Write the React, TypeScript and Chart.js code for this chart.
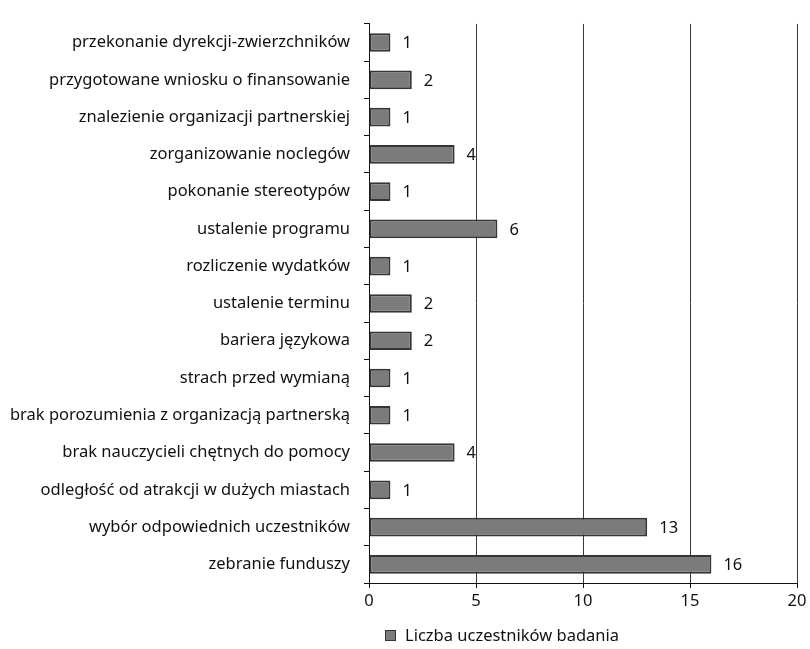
import React, { useEffect, useRef } from "react";
import { Chart, registerables } from "chart.js";

Chart.register(...registerables);

// Categories listed top to bottom
const categories: string[] = [
  "przekonanie dyrekcji-zwierzchników",
  "przygotowane wniosku o finansowanie",
  "znalezienie organizacji partnerskiej",
  "zorganizowanie noclegów",
  "pokonanie stereotypów",
  "ustalenie programu",
  "rozliczenie wydatków",
  "ustalenie terminu",
  "bariera językowa",
  "strach przed wymianą",
  "brak porozumienia z organizacją partnerską",
  "brak nauczycieli chętnych do pomocy",
  "odległość od atrakcji w dużych miastach",
  "wybór odpowiednich uczestników",
  "zebranie funduszy",
];

const participants: number[] = [1, 2, 1, 4, 1, 6, 1, 2, 2, 1, 1, 4, 1, 13, 16];

const seriesLabel = "Liczba uczestników badania";
const xTicks: number[] = [0, 5, 10, 15, 20];

const FONT = "'Noto Sans', sans-serif";
const FONT_SIZE = 16.5;
const BAR_FILL = "#7b7b7b";
const BAR_EDGE = "#353535";

// Writes each bar's value just past its end
const valueLabels = {
  id: "valueLabels",
  afterDatasetsDraw(chart: any) {
    const { ctx } = chart;
    const meta = chart.getDatasetMeta(0);
    const data = chart.data.datasets[0].data as number[];
    ctx.save();
    ctx.font = `${FONT_SIZE}px ${FONT}`;
    ctx.fillStyle = "#111";
    ctx.textAlign = "left";
    ctx.textBaseline = "middle";
    meta.data.forEach((bar: any, i: number) => {
      ctx.fillText(String(data[i]), bar.x + 12, bar.y + 1);
    });
    ctx.restore();
  },
};

// Single-entry legend under the axis
const bottomLegend = {
  id: "bottomLegend",
  afterDraw(chart: any) {
    const { ctx, chartArea } = chart;
    const x = chartArea.left + 16;
    const y = chart.height - 13;
    ctx.save();
    ctx.fillStyle = BAR_FILL;
    ctx.strokeStyle = BAR_EDGE;
    ctx.lineWidth = 1;
    ctx.fillRect(x + 0.5, y - 5.5, 10, 10);
    ctx.strokeRect(x + 0.5, y - 5.5, 10, 10);
    ctx.font = `${FONT_SIZE}px ${FONT}`;
    ctx.fillStyle = "#111";
    ctx.textAlign = "left";
    ctx.textBaseline = "middle";
    ctx.fillText(seriesLabel, x + 20, y);
    ctx.restore();
  },
};

export default function App() {
  const ref = useRef<HTMLCanvasElement | null>(null);

  useEffect(() => {
    if (!ref.current) return;
    const chart = new Chart(ref.current, {
      type: "bar",
      data: {
        labels: categories,
        datasets: [
          {
            label: seriesLabel,
            data: participants,
            backgroundColor: BAR_FILL,
            borderColor: BAR_EDGE,
            borderWidth: 2,
            borderSkipped: false,
            barPercentage: 0.5,
            categoryPercentage: 1,
          },
        ],
      },
      options: {
        indexAxis: "y",
        animation: false,
        responsive: false,
        maintainAspectRatio: false,
        layout: { padding: { top: 12, right: 13, bottom: 36, left: 0 } },
        plugins: {
          legend: { display: false },
          tooltip: { enabled: false },
        },
        scales: {
          x: {
            min: 0,
            max: 20,
            afterBuildTicks(scale: any) {
              scale.ticks = xTicks.map((v) => ({ value: v }));
            },
            afterFit(scale: any) {
              scale.height = 30;
            },
            grid: {
              color: "#3a3a3a",
              lineWidth: 1,
              drawTicks: true,
              tickLength: 5,
              tickColor: "#111",
            },
            border: { display: true, color: "#111", width: 1 },
            ticks: {
              color: "#111",
              font: { family: FONT, size: FONT_SIZE },
              padding: 3,
            },
          },
          y: {
            afterFit(scale: any) {
              scale.width = 369;
            },
            grid: {
              offset: true,
              drawOnChartArea: false,
              drawTicks: true,
              tickLength: 5,
              tickColor: "#111",
            },
            border: { display: true, color: "#111", width: 1 },
            ticks: {
              color: "#111",
              font: { family: FONT, size: FONT_SIZE },
              padding: 14,
              autoSkip: false,
            },
          },
        },
      },
      plugins: [valueLabels, bottomLegend],
    });
    return () => chart.destroy();
  }, []);

  return (
    <div style={{ position: "fixed", left: 0, top: 0, width: 810, height: 649, background: "#fff" }}>
      <canvas ref={ref} width={810} height={649} style={{ display: "block" }} />
    </div>
  );
}
